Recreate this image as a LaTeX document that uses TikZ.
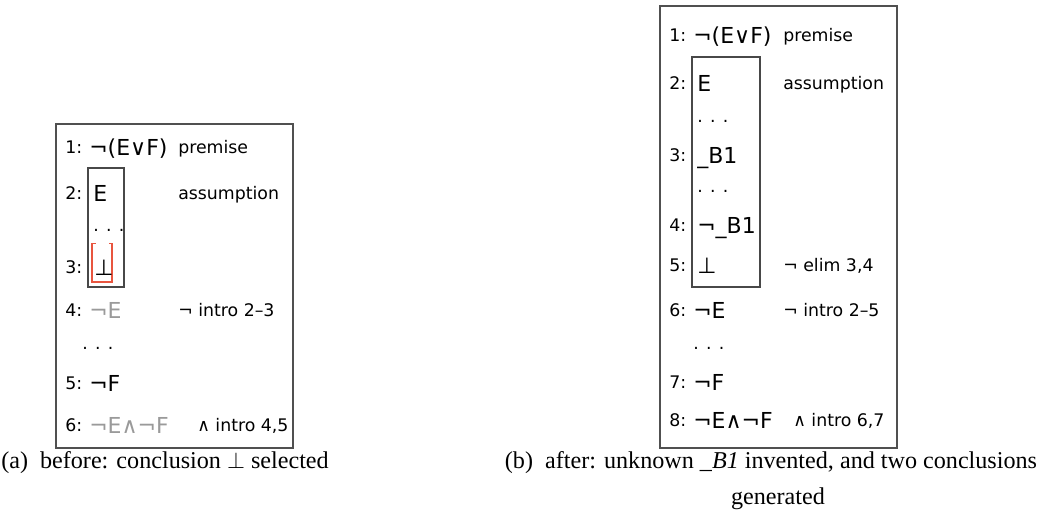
\documentclass[tikz,border=0pt]{standalone}
\usepackage{fontspec}
\newfontfamily\lgfont{DejaVu Sans}
\newfontfamily\capfont{Liberation Serif}
\definecolor{boxgray}{HTML}{505050}
\definecolor{fadegray}{HTML}{9A9A9A}
\definecolor{selred}{HTML}{E8553F}
\tikzset{
  numtxt/.style={anchor=west, inner sep=0pt, font=\fontsize{13}{15}\selectfont\lgfont, text height=9.5pt, text depth=0pt},
  lbltxt/.style={numtxt},
  fmltxt/.style={anchor=west, inner sep=0pt, font=\fontsize{16.5}{19}\selectfont\lgfont, text height=12pt, text depth=0pt},
  dotstxt/.style={anchor=west, inner sep=0pt, font=\fontsize{13}{15}\selectfont\lgfont, text height=2pt, text depth=0pt},
  faded/.style={text=fadegray},
  outerbox/.style={draw=boxgray, line width=1.1pt},
  innerbox/.style={draw=boxgray!90!black, line width=1.1pt},
  captxt/.style={inner sep=0pt, font=\fontsize{18.1}{22}\selectfont\capfont},
}
\begin{document}
\begin{tikzpicture}[x=0.75pt,y=-0.75pt]
\useasboundingbox (0,0) rectangle (1042,511);
% ---------- panel (a) ----------
\draw[outerbox] (56,124) rectangle (293,448);
\draw[innerbox] (88,168) rectangle (124,287);
\draw[draw=selred, line width=1pt] (95.5,243.5) -- (92,243.5) -- (92,282) -- (112,282) -- (112,243.5) -- (108.5,243.5);
\node[numtxt] (a1n) at (65,147) {1:};
\node[fmltxt] (a1f) at (89,147) {¬(E∨F)};
\node[lbltxt] (a1l) at (178,147) {premise};
\node[numtxt] (a2n) at (65,193) {2:};
\node[fmltxt] (a2f) at (93,193) {E};
\node[lbltxt] (a2l) at (178,193) {assumption};
\node[dotstxt] (a2d) at (93,230) {. . .};
\node[numtxt] (a3n) at (65,267) {3:};
\node[fmltxt] (a3f) at (94,267) {⊥};
\node[numtxt] (a4n) at (65,310) {4:};
\node[fmltxt,faded] (a4f) at (89,310) {¬E};
\node[lbltxt] (a4l) at (178,310) {¬ intro 2–3};
\node[dotstxt] (a4d) at (82,348) {. . .};
\node[numtxt] (a5n) at (65,383) {5:};
\node[fmltxt] (a5f) at (89,383) {¬F};
\node[numtxt] (a6n) at (65,425) {6:};
\node[fmltxt,faded] (a6f) at (89,425) {¬E∧¬F};
\node[lbltxt] (a6l) at (197,425) {∧ intro 4,5};
% ---------- panel (b) ----------
\draw[outerbox] (660,6) rectangle (897,448);
\draw[innerbox] (692,57) rectangle (760,287);
\node[numtxt] (b1n) at (669,35) {1:};
\node[fmltxt] (b1f) at (693,35) {¬(E∨F)};
\node[lbltxt] (b1l) at (783,35) {premise};
\node[numtxt] (b2n) at (669,83) {2:};
\node[fmltxt] (b2f) at (697,83) {E};
\node[lbltxt] (b2l) at (783,83) {assumption};
\node[dotstxt] (b2d) at (697,121) {. . .};
\node[numtxt] (b3n) at (669,155) {3:};
\node[fmltxt] (b3f) at (697,155) {\_B1};
\node[dotstxt] (b3d) at (697,191) {. . .};
\node[numtxt] (b4n) at (669,225) {4:};
\node[fmltxt] (b4f) at (697,225) {¬\_B1};
\node[numtxt] (b5n) at (669,265) {5:};
\node[fmltxt] (b5f) at (697,265) {⊥};
\node[lbltxt] (b5l) at (783,265) {¬ elim 3,4};
\node[numtxt] (b6n) at (669,310) {6:};
\node[fmltxt] (b6f) at (693,310) {¬E};
\node[lbltxt] (b6l) at (783,310) {¬ intro 2–5};
\node[dotstxt] (b6d) at (693,348) {. . .};
\node[numtxt] (b7n) at (669,382) {7:};
\node[fmltxt] (b7f) at (693,382) {¬F};
\node[numtxt] (b8n) at (669,420) {8:};
\node[fmltxt] (b8f) at (693,420) {¬E∧¬F};
\node[lbltxt] (b8l) at (793,420) {∧ intro 6,7};
% ---------- captions ----------
\node[captxt] (capa) at (165,463) {(a)\ \ before: conclusion $\perp$ selected};
\node[captxt] (capb) at (771,463) {(b)\ \ after: unknown \_\textit{B1} invented, and two conclusions};
\node[captxt] (capb2) at (778,499) {generated};
\end{tikzpicture}
\end{document}
